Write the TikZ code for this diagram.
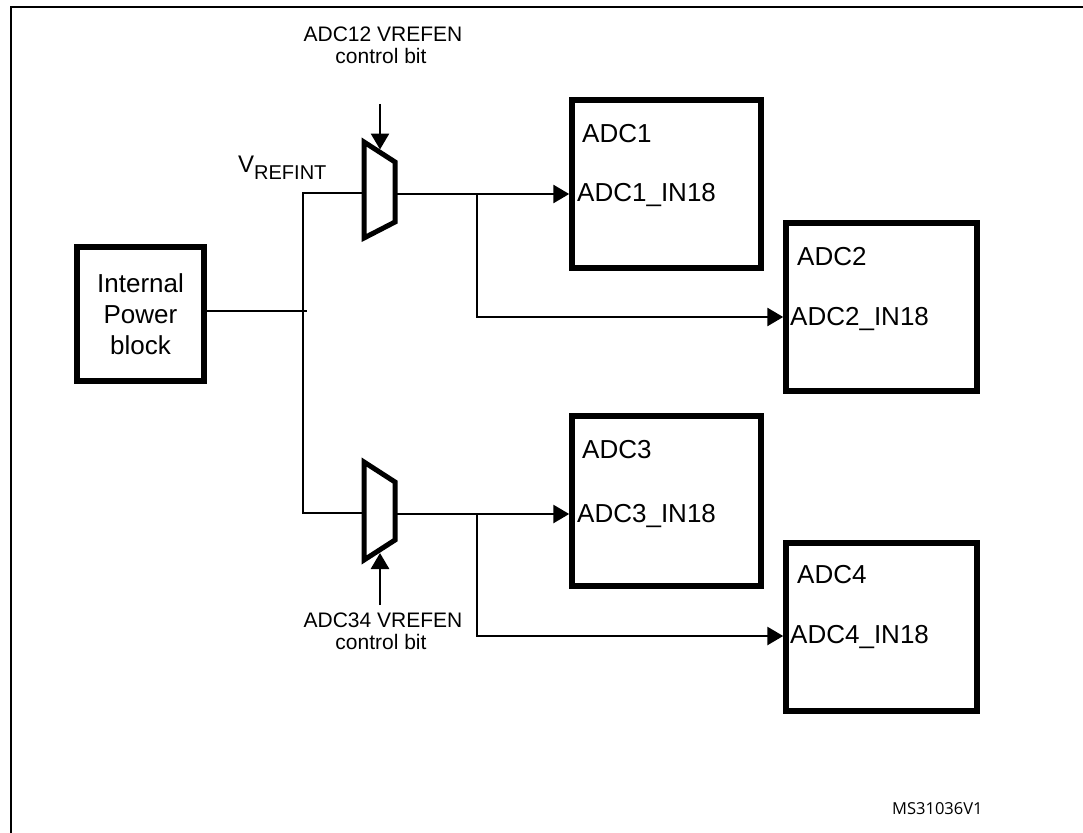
\documentclass[tikz,border=0pt]{standalone}
\usepackage{fontspec}
\setmainfont{Liberation Sans}
\newfontfamily\msfont{Open Sans}
\usetikzlibrary{arrows.meta}
\begin{document}
\begin{tikzpicture}[x=1pt,y=-1pt,
  blk/.style={draw, line width=5.5pt, inner sep=0pt},
  wire/.style={line width=2.8pt},
  sig/.style={wire, -{Triangle[length=16pt,width=18pt]}},
  muxs/.style={draw, line width=5pt, line join=miter},
  big/.style={font=\fontsize{26}{31}\selectfont, inner sep=0pt},
  small/.style={font=\fontsize{21}{22}\selectfont, inner sep=0pt},
]
\useasboundingbox (0,0) rectangle (1083,832);
\clip (0,0) rectangle (1083,832);
% frame
\draw[line width=2.5pt] (11,900) -- (11,7) -- (1200,7);

% internal power block
\node[blk, big, align=center, minimum width=127pt, minimum height=134pt] (pwr) at (140.5,314) {Internal\\Power\\block};

% bus coordinates
\coordinate (bp) at (307,311);
\coordinate (btop) at (303,193);
\coordinate (bbot) at (303,513);

% muxes
\coordinate (m1a) at (364,142);
\coordinate (m1b) at (395,162);
\coordinate (m1c) at (395,222);
\coordinate (m1d) at (364,238);
\coordinate (m1in) at (364,193);
\coordinate (m1out) at (395,194);
\coordinate (m2a) at (364,462);
\coordinate (m2b) at (395,482);
\coordinate (m2c) at (395,540);
\coordinate (m2d) at (364,560);
\coordinate (m2in) at (364,513);
\coordinate (m2out) at (395,514);
\draw[muxs] (m1a) -- (m1b) -- (m1c) -- (m1d) -- cycle;
\draw[muxs] (m2a) -- (m2b) -- (m2c) -- (m2d) -- cycle;

% ADC blocks
\node[blk, minimum width=189pt, minimum height=168pt] (adc1) at (666.5,184) {};
\node[blk, minimum width=191pt, minimum height=168pt] (adc2) at (881.5,307) {};
\node[blk, minimum width=189pt, minimum height=170pt] (adc3) at (666.5,501) {};
\node[blk, minimum width=191pt, minimum height=168pt] (adc4) at (881.5,627) {};

\node[big, anchor=base west] (l1) at (582,142) {ADC1};
\node[big, anchor=base west] (i1) at (577,201) {ADC1\_IN18};
\node[big, anchor=base west] (l2) at (797,265) {ADC2};
\node[big, anchor=base west] (i2) at (790,325) {ADC2\_IN18};
\node[big, anchor=base west] (l3) at (582,458) {ADC3};
\node[big, anchor=base west] (i3) at (577,522) {ADC3\_IN18};
\node[big, anchor=base west] (l4) at (797,583) {ADC4};
\node[big, anchor=base west] (i4) at (790,643) {ADC4\_IN18};

% VREFINT label
\node[anchor=base west, inner sep=0pt] (vref) at (238,172) {\fontsize{24}{24}\selectfont V\raisebox{-7pt}{\fontsize{20}{20}\selectfont REFINT}};

% control labels
\node[small, anchor=base] (c1a) at (383,42) {ADC12 VREFEN};
\node[small, anchor=base] (c1b) at (381,64) {control bit};
\node[small, anchor=base] (c2a) at (383,627) {ADC34 VREFEN};
\node[small, anchor=base] (c2b) at (381,649) {control bit};
\coordinate (c1s) at (380,104);
\coordinate (c1t) at (380,149.5);
\coordinate (c2s) at (380,605);
\coordinate (c2t) at (380,553);
\draw[sig] (c1s) -- (c1t);
\draw[sig] (c2s) -- (c2t);

% wires
\draw[wire] (pwr.east |- bp) -- (bp);
\draw[wire] (m1in) -- (btop) -- (bbot) -- (m2in);

\coordinate (j1) at (477,194);
\coordinate (j1b) at (477,317);
\coordinate (j2) at (477,514);
\coordinate (j2b) at (477,636);
\draw[sig] (m1out) -- (adc1.west |- m1out);
\draw[sig] (j1) -- (j1b) -- (adc2.west |- j1b);
\draw[sig] (m2out) -- (adc3.west |- m2out);
\draw[sig] (j2) -- (j2b) -- (adc4.west |- j2b);

% reference code
\node[anchor=base west, inner sep=0pt, font=\msfont\fontsize{16.5}{18}\selectfont] (ms) at (892,814) {MS31036V1};
\end{tikzpicture}
\end{document}
